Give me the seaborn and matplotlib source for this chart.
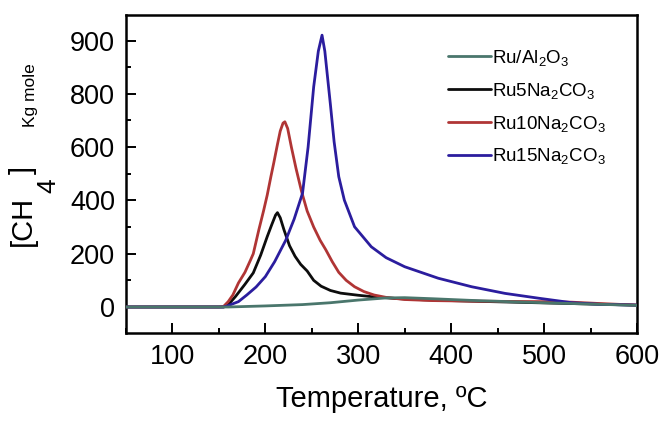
import matplotlib
matplotlib.use("Agg")
import matplotlib.pyplot as plt
import seaborn as sns
import pandas as pd
from matplotlib.ticker import FixedLocator, MultipleLocator

# ---- data ----
series_names = ["Ru/Al$_2$O$_3$", "Ru5Na$_2$CO$_3$", "Ru10Na$_2$CO$_3$", "Ru15Na$_2$CO$_3$"]

t_al2o3 = [50, 160, 200, 240, 270, 300, 330, 350, 380, 420, 470, 520, 560, 600]
v_al2o3 = [0, 0, 4, 9, 16, 26, 34, 35, 31, 25, 19, 14, 10, 6]

t_ru5 = [50, 155, 160, 168, 178, 187, 195, 202, 207, 211, 213, 216, 220, 226, 232, 238,
         245, 252, 260, 270, 281, 300, 314, 340, 370, 420, 480, 540, 600]
v_ru5 = [0, 0, 8, 40, 85, 128, 195, 264, 310, 345, 354, 335, 290, 230, 190, 160,
         135, 100, 78, 62, 52, 44, 39, 32, 27, 22, 17, 12, 7]

t_ru10 = [50, 150, 155, 160, 165, 171, 178, 184, 187, 193, 198, 202, 206, 209, 213, 216,
          219, 221, 224, 228, 233, 239, 245, 252, 259, 265, 272, 279, 287, 296, 306, 317,
          330, 350, 380, 420, 460, 500, 530, 560, 600]
v_ru10 = [0, 0, 2, 20, 45, 90, 130, 176, 200, 290, 360, 420, 490, 540, 610, 660,
          690, 695, 670, 600, 520, 433, 360, 300, 250, 215, 170, 130, 100, 76, 58, 45,
          36, 28, 24, 22, 21, 20, 18, 13, 7]

t_ru15 = [50, 155, 160, 165, 171, 180, 190, 200, 210, 222, 231, 240, 246, 252, 257, 261,
          264, 267, 270, 274, 279, 285, 296, 314, 330, 350, 386, 422, 458, 494, 530, 560, 600]
v_ru15 = [0, 0, 5, 12, 20, 45, 75, 114, 170, 251, 330, 427, 600, 826, 960, 1020,
          960, 860, 760, 620, 489, 401, 301, 226, 185, 151, 108, 76, 51, 33, 16, 10, 7]

x_ticks = [100, 200, 300, 400, 500, 600]
y_tick_pos = [0, 200, 400, 600, 800, 1000]
y_tick_labels = ["0", "200", "400", "600", "800", "900"]

colors = ["#4a766c", "#0d0d0d", "#b03535", "#2b1d9e"]

# ---- style ----
sns.set_style("ticks")
plt.rcParams["font.family"] = ["Liberation Sans", "DejaVu Sans"]
plt.rcParams["mathtext.fontset"] = "custom"
plt.rcParams["mathtext.rm"] = "Liberation Sans"
plt.rcParams["mathtext.it"] = "Liberation Sans:italic"
plt.rcParams["mathtext.bf"] = "Liberation Sans:bold"
plt.rcParams["text.color"] = "black"
plt.rcParams["axes.labelcolor"] = "black"
plt.rcParams["xtick.color"] = "black"
plt.rcParams["ytick.color"] = "black"
plt.rcParams["axes.edgecolor"] = "black"

fig = plt.figure(figsize=(6.6, 4.26), dpi=100)
ax = fig.add_axes([126 / 660, 1 - 333 / 426, (637 - 126) / 660, (333 - 15) / 426])

data = [(t_al2o3, v_al2o3), (t_ru5, v_ru5), (t_ru10, v_ru10), (t_ru15, v_ru15)]
zorders = [5, 2, 3, 4]
for (t, v), name, c, z in zip(data, series_names, colors, zorders):
    df = pd.DataFrame({"T": t, "v": v})
    sns.lineplot(data=df, x="T", y="v", ax=ax, color=c, lw=2.0, label=name,
                 estimator=None, sort=False, zorder=z)

h, l = ax.get_legend_handles_labels()
leg = ax.legend(h, l, loc="upper left", bbox_to_anchor=(448 / 660, 1 - 48 / 426),
                bbox_transform=fig.transFigure, frameon=False, fontsize=13.5,
                handlelength=2.3, handletextpad=0.05, labelspacing=0.68,
                borderpad=0, borderaxespad=0)
for lh in leg.get_lines():
    lh.set_linewidth(2.0)

ax.set_xlim(50, 600)
ax.set_ylim(-97.6, 1095.7)
ax.xaxis.set_major_locator(FixedLocator(x_ticks))
ax.xaxis.set_minor_locator(MultipleLocator(50))
ax.yaxis.set_major_locator(FixedLocator(y_tick_pos))
ax.yaxis.set_minor_locator(MultipleLocator(100))
ax.set_yticklabels(y_tick_labels)

ax.tick_params(which="major", direction="in", length=7, width=1.4, labelsize=19.5,
               pad=8, top=False, right=False)
ax.tick_params(which="minor", direction="in", length=3.5, width=1.4, top=False, right=False)
for s in ax.spines.values():
    s.set_linewidth(1.8)
    s.set_visible(True)

ax.set_xlabel("Temperature, \u00baC", fontsize=21, labelpad=11)
ax.set_ylabel("")

# y-axis label pieces: [CH  4  ]  and the "Kg mole" unit
fig.text(23 / 660, 1 - 246 / 426, "[CH", rotation=90, fontsize=21,
         ha="center", va="bottom")
fig.text(48 / 660, 1 - 186 / 426, "4", rotation=90, fontsize=19,
         ha="center", va="center")
fig.text(23 / 660, 1 - 170 / 426, "]", rotation=90, fontsize=21,
         ha="center", va="center")
fig.text(31 / 660, 1 - 95 / 426, "Kg mole", rotation=90, fontsize=12.5,
         ha="center", va="center")

fig.savefig("out.png", dpi=100, facecolor="white")
